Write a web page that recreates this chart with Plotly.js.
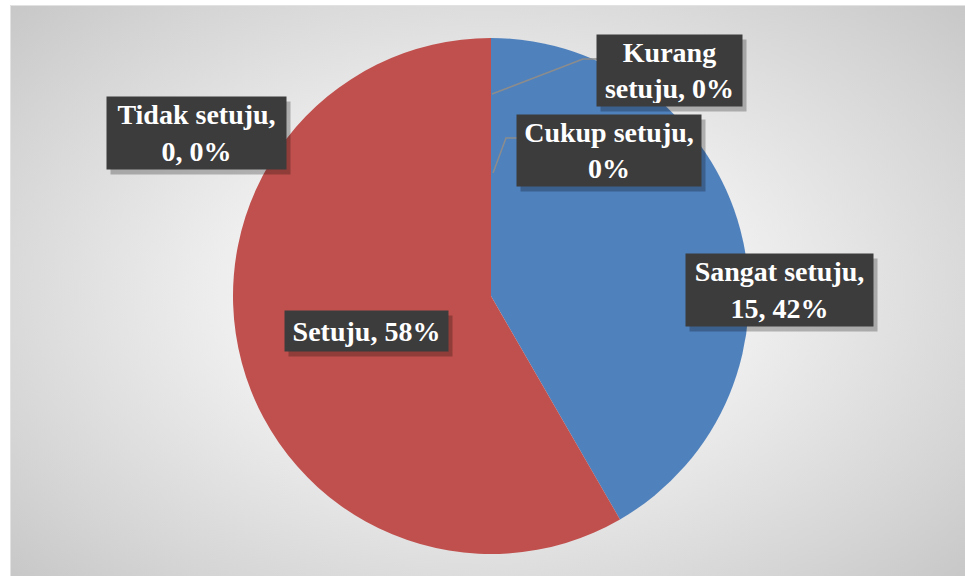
<!DOCTYPE html>
<html>
<head>
<meta charset="utf-8">
<script src="https://cdn.plot.ly/plotly-3.0.1.min.js"></script>
<style>
  html, body { margin:0; padding:0; background:#ffffff; width:965px; height:576px; overflow:hidden; }
  #frame { position:absolute; left:10px; top:5px; width:955px; height:571px;
    background: radial-gradient(ellipse 70% 75% at 50% 50%, #fafafa 0%, #eeeeee 40%, #d4d4d4 80%, #c6c6c6 100%);
    border-top:1px solid #e2e2e2; border-left:1px solid #e2e2e2; box-sizing:border-box; }
  #chart { position:absolute; left:0; top:0; width:955px; height:571px; }
</style>
</head>
<body>
<div id="frame"><div id="chart"></div></div>
<script>
const categories = ["Sangat setuju", "Setuju", "Cukup setuju", "Kurang setuju", "Tidak setuju"];
const values = [15, 21, 0, 0, 0];
const showValue = [true, false, false, false, true];
const colors = ["#4F81BD", "#C0504D", "#9BBB59", "#8064A2", "#4BACC6"];

const total = values.reduce((a, b) => a + b, 0);
const pct = values.map(v => Math.round(v / total * 100));
function labelText(i) {
  const name = categories[i];
  const parts = [name];
  if (showValue[i]) parts.push(String(values[i]));
  parts.push(pct[i] + "%");
  return parts.join(", ");
}

const W = 955, H = 571;
const px = x => (x - 10) / W;
const py = y => 1 - (y - 5) / H;

// label box placement (image pixel centers, box size) and line breaks
const labelPos = {
  "Sangat setuju": { x: 778, y: 289, w: 187, h: 72, br: [14] },
  "Setuju": { x: 365, y: 330, w: 163, h: 40, br: [] },
  "Cukup setuju": { x: 608, y: 149, w: 184, h: 71, br: [13] },
  "Kurang setuju": { x: 668, y: 69, w: 145, h: 71, br: [6] },
  "Tidak setuju": { x: 195, y: 132, w: 179, h: 72, br: [13] }
};
function withBreaks(t, br) {
  if (!br.length) return t;
  const i = br[0];
  return t.slice(0, i).trim() + "<br>" + t.slice(i).trim();
}

const pad = 3;
const font = { family: "Liberation Serif, DejaVu Serif, serif", size: 28, color: "#ffffff", weight: "bold" };
const annotations = [];
categories.forEach((c, i) => {
  const p = labelPos[c];
  const txt = "<b>" + withBreaks(labelText(i), p.br) + "</b>";
  // shadow box
  annotations.push({ x: px(p.x), y: py(p.y), xref: "paper", yref: "paper", xanchor: "center", yanchor: "middle",
    text: " ", showarrow: false, width: p.w - 2 * pad, height: p.h - 2 * pad,
    font: font, bgcolor: "rgba(0,0,0,0.25)", borderpad: pad,
    xshift: 4, yshift: -5 });
  annotations.push({ x: px(p.x), y: py(p.y), xref: "paper", yref: "paper", xanchor: "center", yanchor: "middle",
    text: txt, showarrow: false, width: p.w - 2 * pad, height: p.h - 2 * pad,
    font: font, bgcolor: "#3c3c3c", borderpad: pad, align: "center", valign: "middle" });
});

const shapes = [
  { type: "path", xref: "paper", yref: "paper",
    path: `M ${px(491)} ${py(93)} L ${px(582)} ${py(58)} L ${px(596)} ${py(58)}`,
    line: { color: "#8c8c8c", width: 1.5 } },
  { type: "path", xref: "paper", yref: "paper",
    path: `M ${px(492)} ${py(172)} L ${px(505)} ${py(137)} L ${px(516)} ${py(137)}`,
    line: { color: "#8c8c8c", width: 1.5 } }
];

const cx = 480, cy = 290, r = 258;
const trace = {
  type: "pie",
  labels: categories,
  values: values,
  sort: false,
  direction: "clockwise",
  rotation: 0,
  textinfo: "none",
  hoverinfo: "label+value+percent",
  marker: { colors: colors, line: { color: "#ffffff", width: 0 } },
  domain: { x: [(cx - r) / W, (cx + r) / W], y: [(H - cy - r) / H, (H - cy + r) / H] },
  showlegend: false
};

Plotly.newPlot("chart", [trace], {
  width: W, height: H,
  margin: { l: 0, r: 0, t: 0, b: 0 },
  paper_bgcolor: "rgba(0,0,0,0)",
  plot_bgcolor: "rgba(0,0,0,0)",
  annotations: annotations,
  shapes: shapes,
  showlegend: false
}, { displayModeBar: false, staticPlot: true });
</script>
</body>
</html>
